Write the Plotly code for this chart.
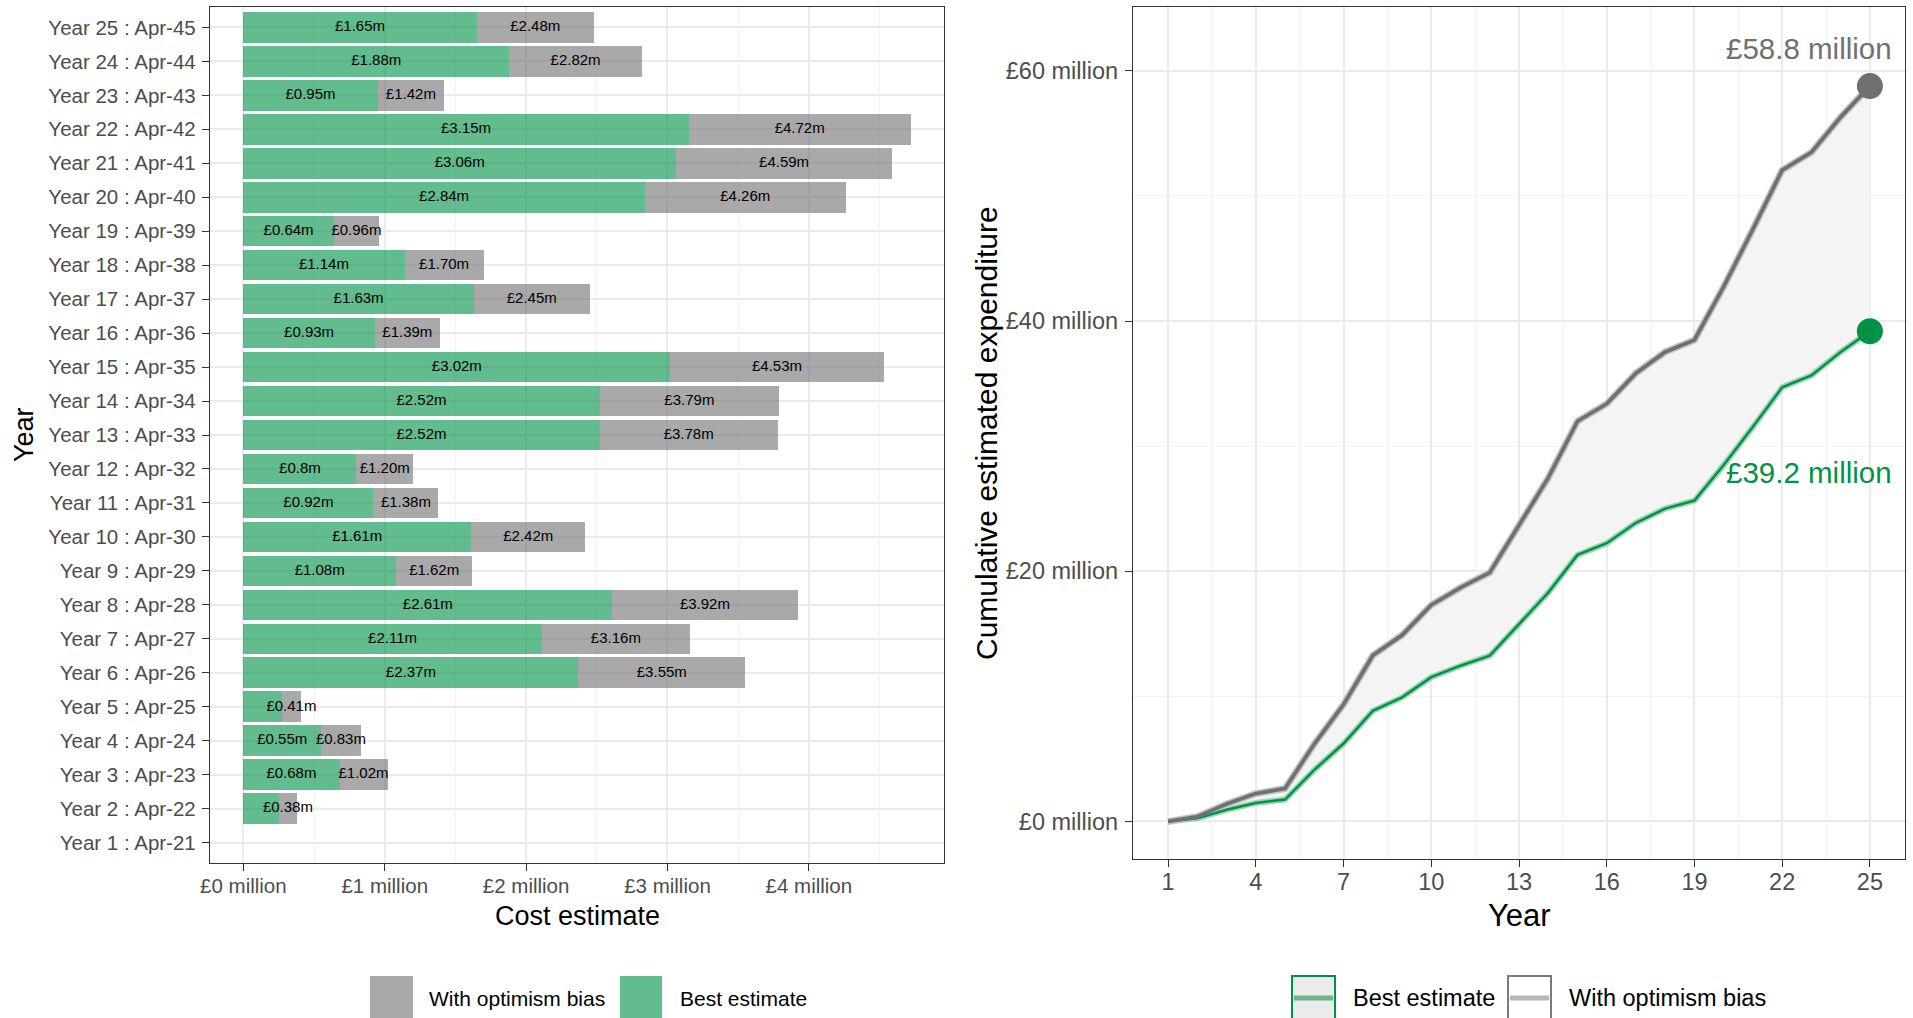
"""Cost estimate by year (bars) and cumulative expenditure (lines), two panels."""
import numpy as np
import plotly.graph_objects as go

# Data (£ million)
years = list(range(1, 26))
year_labels = [f"Year {y} : Apr-{20 + y}" for y in years]
best_estimate = [0, 0.25, 0.68, 0.55, 0.27, 2.37, 2.11, 2.61, 1.08, 1.61, 0.92, 0.8, 2.52,
                 2.52, 3.02, 0.93, 1.63, 1.14, 0.64, 2.84, 3.06, 3.15, 0.95, 1.88, 1.65]
optimism_bias = [0, 0.38, 1.02, 0.83, 0.41, 3.55, 3.16, 3.92, 1.62, 2.42, 1.38, 1.20, 3.78,
                 3.79, 4.53, 1.39, 2.45, 1.70, 0.96, 4.26, 4.59, 4.72, 1.42, 2.82, 2.48]
cost_ticks = [0, 1, 2, 3, 4]
cum_ticks = [0, 20, 40, 60]
year_ticks = [1, 4, 7, 10, 13, 16, 19, 22, 25]

best = np.array(best_estimate)
ob = np.array(optimism_bias)
cum_best = np.cumsum(best)
cum_ob = np.cumsum(ob)

W, H = 1913, 1018
FONT = "Liberation Sans, Arial, sans-serif"
GREEN = "#009245"
GREY = "#707070"
BAR_GREEN = "rgba(0,146,69,0.61)"
BAR_GREY = "rgba(112,112,112,0.6)"


def px(x):
    return x / W


def py(y):
    return 1 - y / H


fig = go.Figure()

# left panel: stacked bars
fig.add_trace(go.Bar(y=year_labels, x=best, orientation="h", marker_color=BAR_GREEN,
                     marker_line_width=0, xaxis="x", yaxis="y", showlegend=False))
fig.add_trace(go.Bar(y=year_labels, x=ob - best, orientation="h", marker_color=BAR_GREY,
                     marker_line_width=0, xaxis="x", yaxis="y", showlegend=False))

# bar labels, centred in each segment
best_text = [f"£{v:g}m" if v >= 0.3 else "" for v in best]
ob_text = [f"£{v:.2f}m" if v > 0 else "" for v in ob]
fig.add_trace(go.Scatter(y=year_labels, x=best / 2, mode="text", text=best_text,
                         textfont=dict(size=15, color="black", family=FONT),
                         xaxis="x", yaxis="y", showlegend=False, cliponaxis=False))
fig.add_trace(go.Scatter(y=year_labels, x=(best + ob) / 2, mode="text", text=ob_text,
                         textfont=dict(size=15, color="black", family=FONT),
                         xaxis="x", yaxis="y", showlegend=False, cliponaxis=False))

# right panel: ribbon + lines
fig.add_trace(go.Scatter(x=years, y=cum_best, mode="lines", line=dict(color="#9fd4b3", width=6),
                         xaxis="x2", yaxis="y2", showlegend=False))
fig.add_trace(go.Scatter(x=years, y=cum_ob, mode="lines", line=dict(color="#c4c4c4", width=7),
                         fill="tonexty", fillcolor="#f4f4f4",
                         xaxis="x2", yaxis="y2", showlegend=False))
fig.add_trace(go.Scatter(x=years, y=cum_best, mode="lines", line=dict(color=GREEN, width=2.5),
                         xaxis="x2", yaxis="y2", showlegend=False))
fig.add_trace(go.Scatter(x=years, y=cum_ob, mode="lines", line=dict(color=GREY, width=3.8),
                         xaxis="x2", yaxis="y2", showlegend=False))
fig.add_trace(go.Scatter(x=[years[-1], years[-1]], y=[cum_ob[-1], cum_best[-1]], mode="markers",
                         marker=dict(size=26, color=[GREY, GREEN]),
                         xaxis="x2", yaxis="y2", showlegend=False, cliponaxis=False))

fig.add_annotation(x=25.82, y=cum_ob[-1] + 3.0, xref="x2", yref="y2", xanchor="right",
                   text=f"£{cum_ob[-1]:.1f} million", showarrow=False,
                   font=dict(size=29.5, color=GREY, family=FONT))
fig.add_annotation(x=25.82, y=cum_best[-1] - 11.3, xref="x2", yref="y2", xanchor="right",
                   text=f"£{cum_best[-1]:.1f} million", showarrow=False,
                   font=dict(size=29.5, color=GREEN, family=FONT))

axis_common = dict(showline=True, mirror=True, linecolor="#333333", linewidth=1.3,
                   ticks="outside", ticklen=7, tickcolor="#333333", tickwidth=1.3,
                   gridcolor="#ebebeb", gridwidth=1.6,
                   zeroline=False, automargin=False)

fig.update_layout(
    width=W, height=H,
    margin=dict(l=0, r=0, t=0, b=0),
    plot_bgcolor="white", paper_bgcolor="white",
    barmode="stack", bargap=0.1,
    font=dict(family=FONT, color="black"),
    xaxis=dict(domain=[px(210), px(944)], range=[-0.236, 4.956], anchor="y",
               tickvals=cost_ticks, ticktext=[f"£{t} million" for t in cost_ticks],
               tickfont=dict(size=20.5, color="#4d4d4d"), ticklabelstandoff=-3,
               minor=dict(dtick=0.5, tick0=0, showgrid=True, gridcolor="#f3f3f3", gridwidth=1, ticks=""),
               **axis_common),
    yaxis=dict(domain=[py(863), py(7)], range=[-0.6, 24.6], anchor="x",
               type="category", categoryorder="array", categoryarray=year_labels,
               tickfont=dict(size=20.5, color="#4d4d4d"), ticklabelstandoff=2,
               **axis_common),
    xaxis2=dict(domain=[px(1133), px(1905)], range=[-0.2, 26.2], anchor="y2",
                tickvals=year_ticks, tickfont=dict(size=23.5, color="#4d4d4d"), ticklabelstandoff=-5,
                minor=dict(dtick=1.5, tick0=1, showgrid=True, gridcolor="#f3f3f3", gridwidth=1, ticks=""),
                **axis_common),
    yaxis2=dict(domain=[py(859), py(7)], range=[-3.0, 65.1], anchor="x2",
                tickvals=cum_ticks, ticktext=[f"£{t} million" for t in cum_ticks],
                tickfont=dict(size=23.5, color="#4d4d4d"), ticklabelstandoff=2,
                minor=dict(dtick=10, tick0=0, showgrid=True, gridcolor="#f3f3f3", gridwidth=1, ticks=""),
                **axis_common),
)

# axis titles
for x, y, text, size, angle in [(577, 916, "Cost estimate", 27, 0),
                                (24, 435, "Year", 27, -90),
                                (1519, 915, "Year", 31, 0),
                                (986, 433, "Cumulative estimated expenditure", 30, -90)]:
    fig.add_annotation(x=px(x), y=py(y), xref="paper", yref="paper", xanchor="center", yanchor="middle",
                       text=text, textangle=angle, showarrow=False,
                       font=dict(size=size, color="black", family=FONT))

# hand-drawn legends to match the square keys
shapes = []
ky0, ky1 = py(976), py(1022)
shapes.append(dict(type="rect", xref="paper", yref="paper", x0=px(370), x1=px(413), y0=ky1, y1=ky0,
                   fillcolor=BAR_GREY, line_width=0))
shapes.append(dict(type="rect", xref="paper", yref="paper", x0=px(620), x1=px(662), y0=ky1, y1=ky0,
                   fillcolor=BAR_GREEN, line_width=0))
shapes.append(dict(type="rect", xref="paper", yref="paper", x0=px(1292), x1=px(1335), y0=ky1, y1=ky0,
                   fillcolor="#ebebeb", line=dict(color=GREEN, width=2)))
shapes.append(dict(type="line", xref="paper", yref="paper", x0=px(1294), x1=px(1333), y0=py(998), y1=py(998),
                   line=dict(color="#6db58a", width=5)))
shapes.append(dict(type="rect", xref="paper", yref="paper", x0=px(1508), x1=px(1551), y0=ky1, y1=ky0,
                   fillcolor="white", line=dict(color="#7a7a7a", width=2)))
shapes.append(dict(type="line", xref="paper", yref="paper", x0=px(1510), x1=px(1549), y0=py(998), y1=py(998),
                   line=dict(color="#b8b8b8", width=5)))
fig.update_layout(shapes=shapes)

for x, label, size in [(427, "With optimism bias", 21), (678, "Best estimate", 21),
                       (1351, "Best estimate", 23.5), (1567, "With optimism bias", 23.5)]:
    fig.add_annotation(x=px(x), y=py(998), xref="paper", yref="paper", xanchor="left", yanchor="middle",
                       text=label, showarrow=False, font=dict(size=size, color="black", family=FONT))

fig.write_html("out.html", config={"displayModeBar": False},
               post_script="document.body.style.margin='0';document.body.style.overflow='hidden';")
